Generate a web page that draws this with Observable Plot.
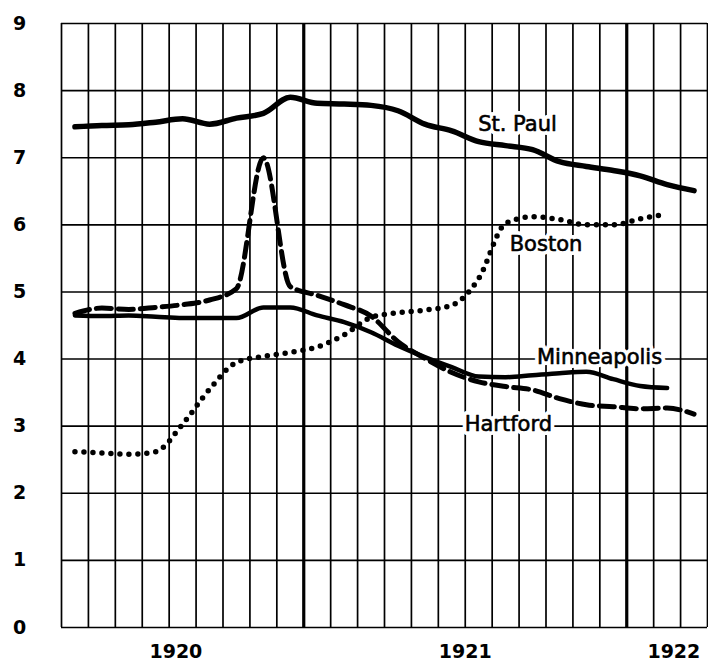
<!DOCTYPE html>
<html><head><meta charset="utf-8">
<script src="https://cdn.jsdelivr.net/npm/d3@7"></script>
<script src="https://cdn.jsdelivr.net/npm/@observablehq/plot@0.6"></script>
<style>body{margin:0;background:#fff}</style>
</head><body><div id="chart"></div>
<script>
// Monthly values, April 1920 – March 1922 (plotted at mid-month)
const monthCount = 24;
const yearBoundaries = [9, 21];          // Jan 1921, Jan 1922
const yTicks = [0,1,2,3,4,5,6,7,8,9];
const yearLabels = ["1920","1921","1922"];
const yearLabelMonths = [4.25, 15, 22.75];

const stPaul = [7.46,7.48,7.49,7.53,7.58,7.50,7.59,7.66,7.90,7.81,7.80,7.78,7.70,7.50,7.40,7.24,7.18,7.12,6.94,6.87,6.81,6.73,6.60,6.51];
const minneapolis = [4.65,4.64,4.65,4.63,4.61,4.61,4.61,4.77,4.77,4.65,4.55,4.40,4.20,4.03,3.88,3.74,3.73,3.76,3.79,3.81,3.70,3.60,3.57];
const hartford = [4.68,4.76,4.74,4.77,4.81,4.88,5.05,7.00,5.08,4.95,4.81,4.64,4.26,4.01,3.80,3.66,3.59,3.54,3.41,3.32,3.29,3.26,3.27,3.18];
const boston = [2.62,2.60,2.58,2.62,3.03,3.55,3.95,4.04,4.10,4.18,4.36,4.62,4.69,4.73,4.80,5.20,6.02,6.12,6.08,6.00,6.00,6.09,6.16];

const seriesNames = ["St. Paul","Boston","Minneapolis","Hartford"];
const labelMonths = [16.94, 18.0, 19.99, 16.6];
const labelValues = [7.50, 5.71, 4.02, 3.03];

const toRows = (name, vals) => vals.map((v, i) => ({name, m: i + 0.5, v}));
const rowsStPaul = toRows("St. Paul", stPaul);
const rowsMinn = toRows("Minneapolis", minneapolis);
const rowsHart = toRows("Hartford", hartford);
const rowsBos = toRows("Boston", boston);
const labels = seriesNames.map((n, i) => ({n, m: labelMonths[i], v: labelValues[i]}));
const monthLines = d3.range(0, monthCount + 1);
const years = yearLabels.map((t, i) => ({t, m: yearLabelMonths[i]}));

const labelStyle = {x: "m", y: "v", text: "n", fontSize: 21, fontFamily: "DejaVu Sans", letterSpacing: "1.5px"};

const chart = Plot.plot({
  width: 708,
  height: 662,
  marginLeft: 61,
  marginRight: 1,
  marginTop: 23,
  marginBottom: 35,
  x: {domain: [0, monthCount], axis: null},
  y: {domain: [0, 9], axis: null},
  style: {background: "#fff", overflow: "visible"},
  marks: [
    Plot.ruleX(monthLines, {x: d => d, stroke: "#000", strokeWidth: d => yearBoundaries.includes(d) ? 3.2 : 1.7}),
    Plot.ruleY(yTicks, {y: d => d, stroke: "#000", strokeWidth: 1.6}),
    Plot.text(yTicks, {y: d => d, text: d => String(d), frameAnchor: "left", dx: -42, textAnchor: "middle",
      fontSize: 19, fontWeight: "bold", fontFamily: "DejaVu Sans", fill: "#000"}),
    Plot.text(years, {x: "m", text: "t", frameAnchor: "bottom", dy: 30, textAnchor: "middle",
      fontSize: 19, fontWeight: "bold", fontFamily: "DejaVu Sans", fill: "#000", letterSpacing: "2px"}),
    Plot.text(labels, {...labelStyle, fill: "#fff", stroke: "#fff", strokeWidth: 8}),
    Plot.text(labels, {...labelStyle, fill: "#000", stroke: "#000", strokeWidth: 0.6}),
    Plot.line(rowsStPaul, {x: "m", y: "v", stroke: "#000", strokeWidth: 5.5, curve: "monotone-x", strokeLinecap: "round"}),
    Plot.line(rowsMinn, {x: "m", y: "v", stroke: "#000", strokeWidth: 4.5, curve: "monotone-x", strokeLinecap: "round"}),
    Plot.line(rowsHart, {x: "m", y: "v", stroke: "#000", strokeWidth: 5, curve: "monotone-x", strokeDasharray: "15 7"}),
    Plot.line(rowsBos, {x: "m", y: "v", stroke: "#000", strokeWidth: 5.5, curve: "monotone-x", strokeDasharray: "0 9", strokeLinecap: "round"})
  ]
});
document.getElementById("chart").append(chart);
</script>
</body></html>
